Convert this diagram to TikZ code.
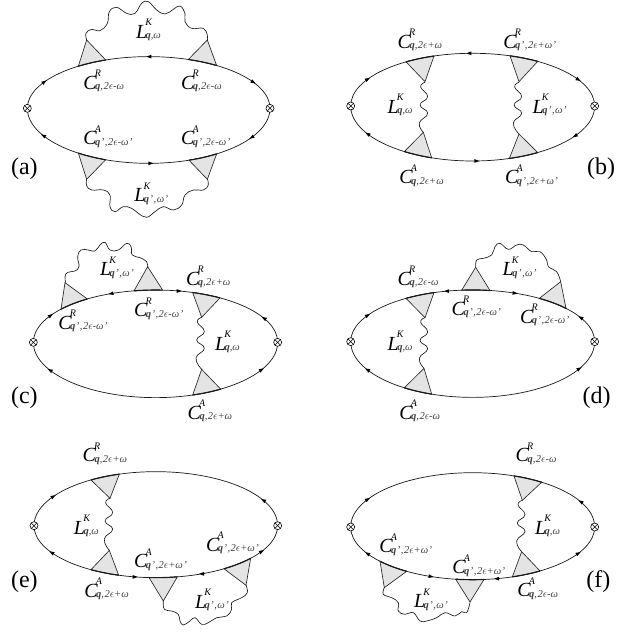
\documentclass[tikz,border=0pt]{standalone}
\usepackage{fontspec}
\setmainfont{Liberation Serif}
\definecolor{vtx}{HTML}{E4E4E4}
\tikzset{
  prop/.style={line width=0.7pt,black!90},
  wavy/.style={line width=0.65pt,black!90,line join=round},
  vertexfill/.style={fill=vtx,draw=black!85,line width=0.65pt,line join=miter},
  heavy/.style={line width=1.15pt,black!90},
  xcirc/.style={circle,draw=black,fill=white,line width=0.6pt,inner sep=0pt,minimum size=8pt,
    path picture={\draw[line width=0.5pt] (path picture bounding box.north west)--(path picture bounding box.south east)
      (path picture bounding box.north east)--(path picture bounding box.south west);}},
  lab/.style={anchor=base west,inner sep=0pt,outer sep=0pt},
  plab/.style={anchor=center,inner sep=0pt,font=\fontsize{24}{24}\selectfont},
  ahead/.pic={\fill[black] (2.6pt,0pt)--(-2.4pt,1.9pt)--(-2.4pt,-1.9pt)--cycle;},
  panelunits/.style={x=1pt/3,y=-1pt/3}
}
\newcommand{\Lbl}[6]{% name,x,y,letter,sup,sub
  \node[lab] (#1) at (#2,#3) {\fontsize{20}{20}\selectfont\itshape #4\kern-1.5pt\rlap{\kern-0.3pt\raisebox{12.5pt}{\fontsize{10}{10}\selectfont #5}}\raisebox{-0.5pt}{\fontsize{10.5}{10.5}\selectfont\color{black!75}#6}};}
\newcommand{\Qq}{\textbf{\textit{q}}}
\newcommand{\Qp}{\textbf{\textit{q}}\kern0.5pt'\kern0.5pt}
\newcommand{\Ee}{,\kern0.5pt2$\epsilon$}
\newcommand{\Om}{ω}
\newcommand{\Op}{ω\kern0.5pt'}
\newcommand{\Sa}{\Qq\Ee-\Om}      % q,2e-w
\newcommand{\Sb}{\Qq\Ee+\Om}      % q,2e+w
\newcommand{\Sc}{\Qp\Ee-\Op}      % q',2e-w'
\newcommand{\Sd}{\Qp\Ee+\Op}      % q',2e+w'
\newcommand{\Se}{\Qq,\Om}         % q,w
\newcommand{\Sf}{\Qp,\kern0.5pt\Op} % q',w'
\newcommand{\Pan}[7]{% prefix, Lx,Rx,y, rx(pt), top ry, bot ry
  \pgfmathsetmacro{\Cx}{(#2+#3)/2}\xdef\Cx{\Cx}\xdef\Cy{#4}\xdef\Rx{#5}\xdef\Rt{#6}\xdef\Rb{#7}
  \draw[prop] (#2,#4) arc[start angle=180,end angle=0,x radius=#5pt,y radius=#6pt];
  \draw[prop] (#2,#4) arc[start angle=180,end angle=360,x radius=#5pt,y radius=#7pt];
  \node[xcirc] (#1L) at (#2,#4) {};
  \node[xcirc] (#1R) at (#3,#4) {};
}
% \Ang{x}{y}{result}: parameter angle on the ellipse of the current panel
\newcommand{\Ang}[3]{\pgfmathsetmacro{#3}{(#2<\Cy ? 1 : -1)*acos((#1-\Cx)/(3*\Rx))}}
\newcommand{\Tri}[6]{% base a, base b, apex
  \Ang{#1}{#2}{\Aa}\Ang{#3}{#4}{\Ab}
  \pgfmathsetmacro{\Xa}{\Cx+3*\Rx*cos(\Aa)}
  \pgfmathsetmacro{\Ya}{\Cy-3*(\Aa>0 ? \Rt : \Rb)*sin(\Aa)}
  \pgfmathsetmacro{\Rr}{#2<\Cy ? \Rt : \Rb}
  \draw[vertexfill] (\Xa,\Ya) arc[start angle=\Aa,end angle=\Ab,x radius=\Rx pt,y radius=\Rr pt] -- (#5,#6) -- cycle;
  \draw[heavy] (\Xa,\Ya) arc[start angle=\Aa,end angle=\Ab,x radius=\Rx pt,y radius=\Rr pt];}
\newcommand{\Ah}[3]{\Ang{#1}{#2}{\Aa}
  \pgfmathsetmacro{\Ya}{\Cy-3*(\Aa>0 ? \Rt : \Rb)*sin(\Aa)}
  \pic[rotate=#3] at (#1,\Ya) {ahead};}
\newcommand{\Vw}[4]{% x0,y0,dx,dy
  \draw[wavy,shift={(#1,#2)}] plot[smooth,tension=0.85] coordinates {(0,0)(-13,14)(8,43)(-15,68)(8,93)(-17,122)(#3,#4)};}
\begin{document}
\begin{tikzpicture}[x=1pt,y=-1pt]
\useasboundingbox[fill=white] (0,0) rectangle (636,631);
% ---------- (a)
\begin{scope}[shift={(0,0)},panelunits]
\Pan{a}{82}{810}{325}{121.33}{51.7}{55}
\Tri{235}{197}{317}{178}{260}{120}
\Tri{565}{178}{650}{193}{622}{120}
\Tri{235}{462}{317}{480}{260}{538}
\Tri{567}{480}{650}{463}{622}{538}
\draw[wavy] plot[smooth,tension=0.7] coordinates {(260,120)(258,100)(275,88)(300,92)(322,70)(328,35)(350,22)(380,40)(405,40)(425,10)(445,5)(470,30)(495,42)(520,28)(540,18)(555,40)(555,65)(575,85)(610,85)(622,105)(622,120)};
\draw[wavy] plot[smooth,tension=0.7] coordinates {(260,537)(260,557)(275,570)(310,570)(330,585)(330,620)(345,635)(370,620)(395,625)(415,640)(440,652)(465,635)(490,620)(520,630)(545,615)(555,585)(580,570)(610,570)(625,555)(622,537)};
\Ah{133}{250}{35}\Ah{447}{170}{180}\Ah{760}{247}{-30}\Ah{755}{418}{210}\Ah{452}{490}{0}\Ah{130}{410}{150}
\Lbl{a1}{250}{268}{C}{R}{\Sa}
\Lbl{a2}{543}{268}{C}{R}{\Sa}
\Lbl{a3}{250}{435}{C}{A}{\Sc}
\Lbl{a4}{543}{435}{C}{A}{\Sc}
\Lbl{a5}{408}{115}{L}{K}{\Se}
\Lbl{a6}{403}{605}{L}{K}{\Sf}
\node[plab] (atag) at (73,505) {(a)};
\end{scope}
% ---------- (b)
\begin{scope}[shift={(320,20)},panelunits]
\Pan{b}{92}{824}{258}{122}{52.7}{55}
\Tri{258}{128}{342}{110}{315}{185}
\Tri{570}{110}{653}{127}{597}{185}
\Tri{253}{395}{335}{412}{310}{337}
\Tri{568}{413}{653}{397}{597}{342}
\Vw{315}{187}{-5}{150}
\Vw{597}{187}{0}{155}
\Ah{143}{180}{30}\Ah{447}{100}{180}\Ah{775}{180}{-30}\Ah{765}{348}{210}\Ah{470}{423}{0}\Ah{143}{345}{150}
\Lbl{b1}{233}{85}{C}{R}{\Sb}
\Lbl{b2}{550}{85}{C}{R}{\Sd}
\Lbl{b3}{203}{280}{L}{K}{\Se}
\Lbl{b4}{638}{280}{L}{K}{\Sf}
\Lbl{b5}{238}{492}{C}{A}{\Sb}
\Lbl{b6}{555}{492}{C}{A}{\Sd}
\node[plab] (btag) at (843,447) {(b)};
\end{scope}
% ---------- (c)
\begin{scope}[shift={(0,210)},panelunits]
\Pan{c}{100}{833}{397}{122.17}{52.3}{55.3}
\Tri{183}{295}{262}{265}{195}{218}
\Tri{402}{240}{488}{238}{443}{170}
\Tri{578}{252}{660}{267}{605}{322}
\Tri{578}{553}{662}{537}{605}{478}
\draw[wavy] plot[smooth,tension=0.7] coordinates {(197,218)(195,200)(203,187)(225,183)(237,170)(233,140)(243,120)(265,120)(285,123)(300,105)(315,97)(330,120)(355,120)(380,100)(393,110)(397,135)(420,143)(440,155)(443,172)};
\Vw{605}{322}{0}{156}
\Ah{152}{318}{35}\Ah{333}{252}{190}\Ah{537}{241}{0}\Ah{792}{325}{150}\Ah{785}{482}{30}\Ah{150}{483}{150}
\Lbl{c1}{300}{197}{L}{K}{\Sf}
\Lbl{c2}{558}{225}{C}{R}{\Sb}
\Lbl{c3}{402}{320}{C}{R}{\Sc}
\Lbl{c4}{175}{357}{C}{R}{\Sc}
\Lbl{c5}{645}{420}{L}{K}{\Se}
\Lbl{c6}{563}{628}{C}{A}{\Sb}
\node[plab] (ctag) at (73,563) {(c)};
\end{scope}
% ---------- (d)
\begin{scope}[shift={(320,210)},panelunits]
\Pan{d}{92}{824}{395}{122}{51.7}{55.7}
\Tri{258}{265}{342}{250}{315}{323}
\Tri{425}{240}{510}{240}{467}{172}
\Tri{658}{265}{738}{295}{722}{215}
\Tri{253}{533}{335}{550}{312}{475}
\draw[wavy] plot[smooth,tension=0.7] coordinates {(467,172)(470,150)(490,145)(515,135)(525,110)(540,100)(565,118)(590,105)(610,105)(635,125)(660,125)(680,150)(685,170)(710,185)(722,215)};
\Vw{315}{323}{-3}{152}
\Ah{143}{318}{30}\Ah{380}{241}{180}\Ah{585}{250}{-5}\Ah{782}{325}{150}\Ah{778}{482}{30}\Ah{142}{483}{150}
\Lbl{d1}{233}{225}{C}{R}{\Sa}
\Lbl{d2}{548}{197}{L}{K}{\Sf}
\Lbl{d3}{395}{315}{C}{R}{\Sc}
\Lbl{d4}{600}{340}{C}{R}{\Sc}
\Lbl{d5}{203}{420}{L}{K}{\Se}
\Lbl{d6}{238}{628}{C}{A}{\Sa}
\node[plab] (dtag) at (830,563) {(d)};
\end{scope}
% ---------- (e)
\begin{scope}[shift={(0,421)},panelunits]
\Pan{e}{102}{833}{314}{121.83}{54}{52}
\Tri{273}{175}{358}{157}{330}{232}
\Tri{273}{445}{356}{463}{328}{388}
\Tri{447}{472}{532}{472}{490}{540}
\Tri{672}{447}{752}{415}{738}{493}
\Vw{330}{232}{-2}{156}
\draw[wavy] plot[smooth,tension=0.7] coordinates {(490,540)(493,565)(515,570)(535,580)(540,600)(550,612)(570,600)(585,590)(605,610)(625,605)(650,590)(680,585)(695,565)(695,545)(725,530)(742,515)(738,493)};
\Ah{160}{225}{30}\Ah{790}{232}{150}\Ah{785}{390}{30}\Ah{605}{460}{180}\Ah{405}{468}{0}\Ah{155}{393}{150}
\Lbl{e1}{248}{122}{C}{R}{\Sb}
\Lbl{e2}{222}{340}{L}{K}{\Se}
\Lbl{e3}{618}{390}{C}{A}{\Sd}
\Lbl{e4}{402}{440}{C}{A}{\Sd}
\Lbl{e5}{253}{528}{C}{A}{\Sb}
\Lbl{e6}{585}{562}{L}{K}{\Sf}
\node[plab] (etag) at (73,483) {(e)};
\end{scope}
% ---------- (f)
\begin{scope}[shift={(320,421)},panelunits]
\Pan{f}{92}{824}{318}{122}{54.3}{52.7}
\Tri{582}{168}{665}{183}{607}{238}
\Tri{577}{465}{660}{448}{605}{392}
\Tri{407}{477}{492}{477}{450}{543}
\Tri{180}{420}{260}{450}{193}{500}
\Vw{607}{238}{-2}{154}
\draw[wavy] plot[smooth,tension=0.7] coordinates {(193,500)(190,520)(215,530)(235,545)(235,570)(255,580)(280,575)(300,600)(320,600)(350,590)(375,575)(405,585)(425,572)(440,575)(450,545)};
\Ah{143}{232}{30}\Ah{782}{237}{150}\Ah{775}{395}{30}\Ah{530}{475}{180}\Ah{333}{465}{-10}\Ah{142}{395}{150}
\Lbl{f1}{587}{122}{C}{R}{\Sa}
\Lbl{f2}{645}{340}{L}{K}{\Se}
\Lbl{f3}{178}{395}{C}{A}{\Sd}
\Lbl{f4}{397}{458}{C}{A}{\Sd}
\Lbl{f5}{592}{527}{C}{A}{\Sa}
\Lbl{f6}{282}{560}{L}{K}{\Sf}
\node[plab] (ftag) at (835,483) {(f)};
\end{scope}
\end{tikzpicture}
\end{document}
